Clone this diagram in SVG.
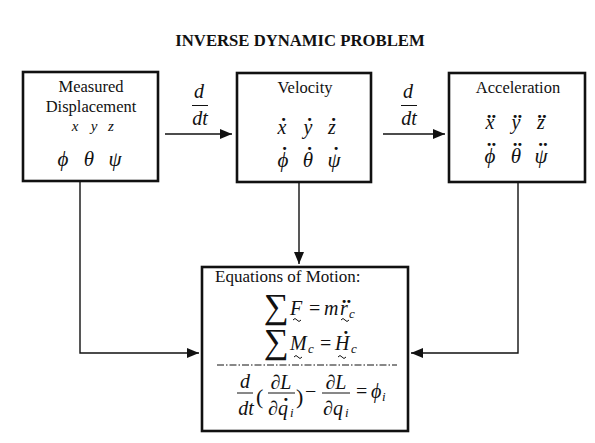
<svg xmlns="http://www.w3.org/2000/svg" width="595" height="443" viewBox="0 0 595 443">
<style>
.box{fill:#fff;stroke:#111;stroke-width:2.6}
.ln{fill:none;stroke:#111;stroke-width:1.4}
.bar{stroke:#111;stroke-width:1}
.tl{fill:none;stroke:#111;stroke-width:1}
.t{font-family:"Liberation Serif","Times New Roman",serif;fill:#111}
.lab{font-size:16.5px;text-anchor:middle}
.m{font-family:"Liberation Serif","Times New Roman",serif;font-style:italic;fill:#111}
.mv{font-size:20px;text-anchor:middle}
.mg{font-size:21px;text-anchor:middle}
.eq{font-size:20px}
.sub{font-size:13px}
.n{font-style:normal}
.sum{font-style:normal;font-size:35px}
.par{font-style:normal;font-size:22px}
.d{font-style:normal;font-weight:bold;font-size:19px}
</style>
<defs>
<marker id="ah" viewBox="0 0 12 10" refX="12" refY="5" markerWidth="12" markerHeight="10" markerUnits="userSpaceOnUse" orient="auto">
<path d="M0,0 L12,5 L0,10 Z" fill="#111"/>
</marker>
</defs>
<rect width="595" height="443" fill="#fff"/>
<text class="t" x="300" y="46" font-size="16.7" font-weight="bold" text-anchor="middle">INVERSE DYNAMIC PROBLEM</text>

<g id="connectors">
<line class="ln" x1="165" y1="134" x2="232" y2="134" marker-end="url(#ah)"/>
<line class="ln" x1="383" y1="134" x2="445" y2="134" marker-end="url(#ah)"/>
<polyline class="ln" points="80,182 80,353 199,353" marker-end="url(#ah)"/>
<line class="ln" x1="299" y1="183" x2="299" y2="264" marker-end="url(#ah)"/>
<polyline class="ln" points="518,183 518,353 411,353" marker-end="url(#ah)"/>
<g id="ddt1">
<text class="m" x="199" y="98" font-size="20" text-anchor="middle">d</text>
<line class="bar" x1="192" y1="105.5" x2="208" y2="105.5"/>
<text class="m" x="200" y="125" font-size="20" text-anchor="middle">dt</text>
</g>
<g id="ddt2">
<text class="m" x="408" y="98" font-size="20" text-anchor="middle">d</text>
<line class="bar" x1="401" y1="105.5" x2="417" y2="105.5"/>
<text class="m" x="409" y="125" font-size="20" text-anchor="middle">dt</text>
</g>
</g>

<g id="displacement">
<rect class="box" x="23" y="72" width="135" height="109"/>
<text class="t lab" x="91" y="92">Measured</text>
<text class="t lab" x="91" y="112">Displacement</text>
<text class="m" x="75" y="131" font-size="15" text-anchor="middle">x</text>
<text class="m" x="94" y="131" font-size="15" text-anchor="middle">y</text>
<text class="m" x="111" y="131" font-size="15" text-anchor="middle">z</text>
<text class="m mg" x="63" y="166">ϕ</text>
<text class="m mg" x="89" y="166">θ</text>
<text class="m mg" x="115" y="166">ψ</text>
</g>

<g id="velocity">
<rect class="box" x="237" y="73" width="134" height="109"/>
<text class="t lab" x="305" y="93">Velocity</text>
<text class="m mv" x="282" y="134">x<tspan class="d" x="283.5" y="121.1">.</tspan></text>
<text class="m mv" x="308" y="134">y<tspan class="d" x="309.5" y="121.1">.</tspan></text>
<text class="m mv" x="332" y="134">z<tspan class="d" x="333.5" y="121.1">.</tspan></text>
<text class="m mg" x="283" y="167">ϕ<tspan class="d" x="284.5" y="150.1">.</tspan></text>
<text class="m mg" x="308" y="167">θ<tspan class="d" x="309.5" y="150.1">.</tspan></text>
<text class="m mg" x="334" y="167">ψ<tspan class="d" x="336" y="150.1">.</tspan></text>
</g>

<g id="acceleration">
<rect class="box" x="449" y="73" width="136" height="109"/>
<text class="t lab" x="518" y="93">Acceleration</text>
<text class="m mv" x="490" y="129">x<tspan class="d" x="491.5" y="118.1">..</tspan></text>
<text class="m mv" x="516" y="129">y<tspan class="d" x="517.5" y="118.1">..</tspan></text>
<text class="m mv" x="541" y="129">z<tspan class="d" x="542" y="118.1">..</tspan></text>
<text class="m mg" x="490" y="163">ϕ<tspan class="d" x="491.5" y="145.6">..</tspan></text>
<text class="m mg" x="516" y="163">θ<tspan class="d" x="517.5" y="145.6">..</tspan></text>
<text class="m mg" x="541" y="163">ψ<tspan class="d" x="543" y="145.6">..</tspan></text>
</g>

<g id="equations">
<rect class="box" x="202" y="267" width="206" height="164"/>
<text class="t" x="215" y="282" font-size="17">Equations of Motion:</text>
<!-- eq 1 -->
<text class="m eq"><tspan class="sum" x="264" y="318">∑</tspan><tspan x="290" y="315">F</tspan><tspan class="n" x="309" y="315">=</tspan><tspan x="324" y="315">m</tspan><tspan x="340" y="315">r</tspan><tspan class="d" x="341.75" y="303.1">..</tspan><tspan class="sub" x="349" y="318">c</tspan></text>
<path class="tl" d="M293,320 q2,-3 4,0 t4,0"/>
<path class="tl" d="M341,320 q2,-3 4,0 t4,0"/>
<!-- eq 2 -->
<text class="m eq"><tspan class="sum" x="264" y="353">∑</tspan><tspan x="290" y="350">M</tspan><tspan class="sub" x="308" y="353">c</tspan><tspan class="n" x="320" y="350">=</tspan><tspan x="335" y="350">H</tspan><tspan class="d" x="343.6" y="334.1">.</tspan><tspan class="sub" x="351" y="353">c</tspan></text>
<path class="tl" d="M294,357 q2,-3 4,0 t4,0"/>
<path class="tl" d="M338,357 q2,-3 4,0 t4,0"/>
<line x1="217" y1="365" x2="397" y2="365" stroke="#111" stroke-width="1" stroke-dasharray="7,2,1.5,2"/>
<!-- Lagrange -->
<text class="m eq" x="245" y="388" text-anchor="middle">d</text>
<line class="bar" x1="237" y1="393" x2="253" y2="393"/>
<text class="m eq" x="246" y="415" text-anchor="middle">dt</text>
<text class="m eq" x="281" y="389" text-anchor="middle">∂L</text>
<line class="bar" x1="268" y1="393" x2="295" y2="393"/>
<text class="m eq" x="268" y="415">∂q<tspan class="d" x="283.6" y="401.1">.</tspan><tspan class="sub" x="290" y="417">i</tspan></text>
<text class="m eq" x="336" y="389" text-anchor="middle">∂L</text>
<line class="bar" x1="322" y1="393" x2="350" y2="393"/>
<text class="m eq" x="323" y="415">∂q<tspan class="sub" x="345" y="417">i</tspan></text>
<text class="m eq"><tspan class="par" x="256" y="404">(</tspan><tspan class="par" x="296" y="404">)</tspan><tspan class="n" x="305" y="398">−</tspan><tspan class="n" x="356" y="398">=</tspan><tspan x="371" y="398">ϕ</tspan><tspan class="sub" x="382" y="401">i</tspan></text>
</g>
</svg>
